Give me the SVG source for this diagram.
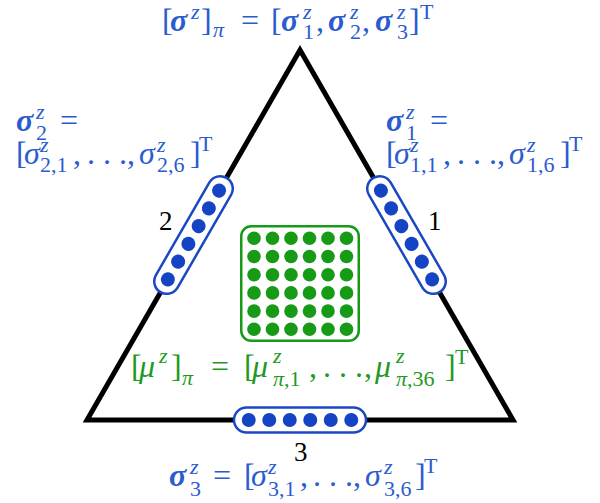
<svg xmlns="http://www.w3.org/2000/svg" width="600" height="503" viewBox="0 0 600 503">
<style>
text{font-family:"Liberation Serif","Times New Roman",serif;font-size:32px}
.blue{fill:#2b5bd0}
.green{fill:#1f9a1f}
.num{fill:#000;font-size:27px}
.i{font-style:italic}
.b{font-style:italic;font-weight:bold}
.s{font-size:22px}
.cap{fill:#fff;stroke:#1a48c4;stroke-width:2.5}
.bd{fill:#1444c4}
.gd{fill:#179b17}
</style>
<defs>
<g id="capsule">
<rect class="cap" x="-66" y="-12.5" width="132" height="25" rx="12.5"/>
<circle class="bd" cx="-51.25" cy="0" r="7"/>
<circle class="bd" cx="-30.75" cy="0" r="7"/>
<circle class="bd" cx="-10.25" cy="0" r="7"/>
<circle class="bd" cx="10.25" cy="0" r="7"/>
<circle class="bd" cx="30.75" cy="0" r="7"/>
<circle class="bd" cx="51.25" cy="0" r="7"/>
</g>
</defs>
<g id="connectors">
<polygon points="300,50 513,420 87,420" fill="none" stroke="#000" stroke-width="5" stroke-miterlimit="10"/>
</g>
<g id="node-1">
<use href="#capsule" transform="translate(406.5,235) rotate(60)"/>
<text class="num" x="428" y="230">1</text>
</g>
<g id="node-2">
<use href="#capsule" transform="translate(193.5,235) rotate(-60)"/>
<text class="num" x="159" y="230">2</text>
</g>
<g id="node-3">
<use href="#capsule" transform="translate(300,420)"/>
<text class="num" x="294" y="461">3</text>
</g>
<g id="node-mu">
<rect x="241.25" y="226.25" width="117.5" height="114.5" rx="10" fill="#fff" stroke="#179b17" stroke-width="2.5"/>
<g class="gd">
<circle cx="254" cy="238.3" r="6.8"/><circle cx="272.5" cy="238.3" r="6.8"/><circle cx="291" cy="238.3" r="6.8"/><circle cx="309.5" cy="238.3" r="6.8"/><circle cx="328" cy="238.3" r="6.8"/><circle cx="346.5" cy="238.3" r="6.8"/>
<circle cx="254" cy="256.5" r="6.8"/><circle cx="272.5" cy="256.5" r="6.8"/><circle cx="291" cy="256.5" r="6.8"/><circle cx="309.5" cy="256.5" r="6.8"/><circle cx="328" cy="256.5" r="6.8"/><circle cx="346.5" cy="256.5" r="6.8"/>
<circle cx="254" cy="274.7" r="6.8"/><circle cx="272.5" cy="274.7" r="6.8"/><circle cx="291" cy="274.7" r="6.8"/><circle cx="309.5" cy="274.7" r="6.8"/><circle cx="328" cy="274.7" r="6.8"/><circle cx="346.5" cy="274.7" r="6.8"/>
<circle cx="254" cy="292.9" r="6.8"/><circle cx="272.5" cy="292.9" r="6.8"/><circle cx="291" cy="292.9" r="6.8"/><circle cx="309.5" cy="292.9" r="6.8"/><circle cx="328" cy="292.9" r="6.8"/><circle cx="346.5" cy="292.9" r="6.8"/>
<circle cx="254" cy="311.1" r="6.8"/><circle cx="272.5" cy="311.1" r="6.8"/><circle cx="291" cy="311.1" r="6.8"/><circle cx="309.5" cy="311.1" r="6.8"/><circle cx="328" cy="311.1" r="6.8"/><circle cx="346.5" cy="311.1" r="6.8"/>
<circle cx="254" cy="329.3" r="6.8"/><circle cx="272.5" cy="329.3" r="6.8"/><circle cx="291" cy="329.3" r="6.8"/><circle cx="309.5" cy="329.3" r="6.8"/><circle cx="328" cy="329.3" r="6.8"/><circle cx="346.5" cy="329.3" r="6.8"/>
</g>
<text class="green"><tspan x="131" y="377">[</tspan><tspan class="i" x="139" y="377">μ</tspan><tspan class="i s" x="159" y="363">z</tspan><tspan x="171" y="377">]</tspan><tspan class="i s" x="182" y="385">π</tspan><tspan x="211" y="377">=</tspan><tspan x="244" y="377">[</tspan><tspan class="i" x="252" y="377">μ</tspan><tspan class="i s" x="273" y="363">z</tspan><tspan class="s" x="273" y="386"><tspan class="i">π</tspan>,1</tspan><tspan x="309" y="377">,</tspan><tspan x="323" y="377">.</tspan><tspan x="339" y="377">.</tspan><tspan x="355" y="377">.</tspan><tspan x="364" y="377">,</tspan><tspan class="i" x="375" y="377">μ</tspan><tspan class="i s" x="396" y="363">z</tspan><tspan class="s" x="396" y="386"><tspan class="i">π</tspan>,36</tspan><tspan x="445" y="377">]</tspan><tspan class="s" x="455" y="364">T</tspan></text>
</g>
<g id="label-top">
<text class="blue"><tspan x="162" y="31">[</tspan><tspan class="b" x="170" y="31">σ</tspan><tspan class="i s" x="191" y="19">z</tspan><tspan x="201" y="31">]</tspan><tspan class="i s" x="213" y="37">π</tspan><tspan x="241" y="31">=</tspan><tspan x="271" y="31">[</tspan><tspan class="b" x="281" y="31">σ</tspan><tspan class="i s" x="303" y="19">z</tspan><tspan class="s" x="303" y="39">1</tspan><tspan x="316" y="31">,</tspan><tspan class="b" x="328" y="31">σ</tspan><tspan class="i s" x="350" y="19">z</tspan><tspan class="s" x="350" y="39">2</tspan><tspan x="362" y="31">,</tspan><tspan class="b" x="375" y="31">σ</tspan><tspan class="i s" x="397" y="19">z</tspan><tspan class="s" x="397" y="39">3</tspan><tspan x="409" y="31">]</tspan><tspan class="s" x="420" y="19">T</tspan></text>
</g>
<g id="label-2">
<text class="blue"><tspan class="b" x="16" y="131">σ</tspan><tspan class="i s" x="36" y="119">z</tspan><tspan class="s" x="36" y="140">2</tspan><tspan x="60" y="131">=</tspan></text>
<text class="blue"><tspan x="16" y="164">[</tspan><tspan class="i" x="24" y="164">σ</tspan><tspan class="i s" x="40" y="152">z</tspan><tspan class="s" x="40" y="172">2,1</tspan><tspan x="73" y="164">,</tspan><tspan x="87" y="164">.</tspan><tspan x="103" y="164">.</tspan><tspan x="119" y="164">.</tspan><tspan x="127" y="164">,</tspan><tspan class="i" x="139" y="164">σ</tspan><tspan class="i s" x="157" y="152">z</tspan><tspan class="s" x="157" y="172">2,6</tspan><tspan x="190" y="164">]</tspan><tspan class="s" x="199" y="151">T</tspan></text>
</g>
<g id="label-1">
<text class="blue"><tspan class="b" x="386" y="131">σ</tspan><tspan class="i s" x="406" y="119">z</tspan><tspan class="s" x="406" y="140">1</tspan><tspan x="430" y="131">=</tspan></text>
<text class="blue"><tspan x="386" y="164">[</tspan><tspan class="i" x="394" y="164">σ</tspan><tspan class="i s" x="410" y="152">z</tspan><tspan class="s" x="410" y="172">1,1</tspan><tspan x="443" y="164">,</tspan><tspan x="457" y="164">.</tspan><tspan x="473" y="164">.</tspan><tspan x="489" y="164">.</tspan><tspan x="497" y="164">,</tspan><tspan class="i" x="509" y="164">σ</tspan><tspan class="i s" x="527" y="152">z</tspan><tspan class="s" x="527" y="172">1,6</tspan><tspan x="560" y="164">]</tspan><tspan class="s" x="569" y="151">T</tspan></text>
</g>
<g id="label-3">
<text class="blue"><tspan class="b" x="169" y="486">σ</tspan><tspan class="i s" x="190" y="474">z</tspan><tspan class="s" x="190" y="496">3</tspan><tspan x="213" y="486">=</tspan><tspan x="244" y="486">[</tspan><tspan class="i" x="251" y="486">σ</tspan><tspan class="i s" x="268" y="474">z</tspan><tspan class="s" x="268" y="496">3,1</tspan><tspan x="300" y="486">,</tspan><tspan x="313" y="486">.</tspan><tspan x="329" y="486">.</tspan><tspan x="345" y="486">.</tspan><tspan x="353" y="486">,</tspan><tspan class="i" x="365" y="486">σ</tspan><tspan class="i s" x="384" y="474">z</tspan><tspan class="s" x="384" y="496">3,6</tspan><tspan x="415" y="486">]</tspan><tspan class="s" x="424" y="473">T</tspan></text>
</g>
</svg>
